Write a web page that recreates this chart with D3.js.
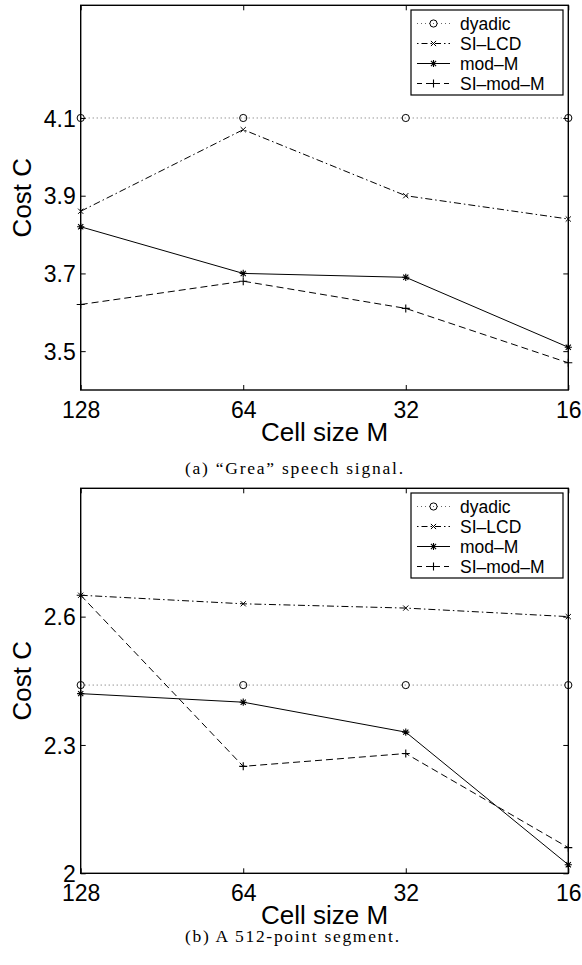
<!DOCTYPE html>
<html>
<head>
<meta charset="utf-8">
<script src="https://cdn.jsdelivr.net/npm/d3@7"></script>
<style>
html,body{margin:0;padding:0;background:#fff;}
svg{display:block;}
</style>
</head>
<body>
<svg id="chart" width="582" height="965"></svg>
<script>
// ---- data ----
const xLabels = ["128", "64", "32", "16"];
const seriesNames = ["dyadic", "SI–LCD", "mod–M", "SI–mod–M"];

const yTicksA = [3.5, 3.7, 3.9, 4.1];
const dyadicA = [4.1, 4.1, 4.1, 4.1];
const silcdA  = [3.86, 4.07, 3.90, 3.84];
const modMA   = [3.82, 3.70, 3.69, 3.51];
const simodMA = [3.62, 3.68, 3.61, 3.47];

const yTicksB = [2, 2.3, 2.6];
const dyadicB = [2.44, 2.44, 2.44, 2.44];
const silcdB  = [2.65, 2.63, 2.62, 2.60];
const modMB   = [2.42, 2.40, 2.33, 2.02];
const simodMB = [2.65, 2.25, 2.28, 2.06];

const captionA = "(a) “Grea” speech signal.";
const captionB = "(b) A 512-point segment.";

// ---- styles ----
const styles = [
  {dash: "1,3", color: "#666", marker: "circle"},
  {dash: "7,3,1.5,3", color: "#000", marker: "x"},
  {dash: null, color: "#000", marker: "star"},
  {dash: "7,4", color: "#000", marker: "plus"}
];

const svg = d3.select("#chart");
const sans = "'Liberation Sans', Arial, Helvetica, sans-serif";
const serif = "'Liberation Serif', 'Times New Roman', serif";

function drawMarker(g, type, cx, cy) {
  if (type === "circle") {
    g.append("circle").attr("cx", cx).attr("cy", cy).attr("r", 3.6)
      .attr("fill", "none").attr("stroke", "#000").attr("stroke-width", 1);
  } else if (type === "x") {
    const s = 2.6;
    g.append("path").attr("d", `M${cx-s},${cy-s}L${cx+s},${cy+s}M${cx-s},${cy+s}L${cx+s},${cy-s}`)
      .attr("stroke", "#000").attr("stroke-width", 1).attr("fill", "none");
  } else if (type === "star") {
    const s = 3.6, d = 2.6;
    g.append("path").attr("d", `M${cx-s},${cy}L${cx+s},${cy}M${cx},${cy-s}L${cx},${cy+s}M${cx-d},${cy-d}L${cx+d},${cy+d}M${cx-d},${cy+d}L${cx+d},${cy-d}`)
      .attr("stroke", "#000").attr("stroke-width", 1.1).attr("fill", "none");
  } else if (type === "plus") {
    const s = 4;
    g.append("path").attr("d", `M${cx-s},${cy}L${cx+s},${cy}M${cx},${cy-s}L${cx},${cy+s}`)
      .attr("stroke", "#000").attr("stroke-width", 1.1).attr("fill", "none");
  }
}

function panel(cfg) {
  const {top, bottom, left, right, domain, ticks, series, caption, captionY, legendTop} = cfg;
  const x = d3.scalePoint().domain(xLabels).range([left, right]).padding(0);
  const y = d3.scaleLinear().domain(domain).range([bottom, top]);
  const g = svg.append("g");

  // series
  series.forEach((vals, i) => {
    const st = styles[i];
    const line = d3.line().x((d, j) => x(xLabels[j])).y(d => y(d));
    const p = g.append("path").datum(vals).attr("d", line)
      .attr("fill", "none").attr("stroke", st.color).attr("stroke-width", 1);
    if (st.dash) p.attr("stroke-dasharray", st.dash);
    vals.forEach((v, j) => drawMarker(g, st.marker, x(xLabels[j]), y(v)));
  });

  // axes (inward ticks on all sides)
  const ax = (gen, tx, ty) => {
    const a = g.append("g").attr("transform", `translate(${tx},${ty})`).call(gen);
    a.select(".domain").remove();
    a.selectAll("line").attr("stroke", "#000").attr("stroke-width", 1);
    a.selectAll("text").attr("font-family", sans).attr("font-size", 23).attr("fill", "#000");
    return a;
  };
  const bx = ax(d3.axisBottom(x).tickSizeInner(-5).tickSizeOuter(0).tickPadding(0), 0, bottom);
  bx.selectAll("text").attr("dy", null).attr("y", 28).attr("dominant-baseline", "auto");
  ax(d3.axisTop(x).tickSizeInner(-5).tickSizeOuter(0).tickFormat(""), 0, top);
  const ly = ax(d3.axisLeft(y).tickValues(ticks).tickSizeInner(-5).tickSizeOuter(0).tickPadding(5).tickFormat(d3.format("")), left, 0);
  ly.selectAll("text").attr("dy", "0.36em");
  ax(d3.axisRight(y).tickValues(ticks).tickSizeInner(-5).tickSizeOuter(0).tickFormat(""), right, 0);

  // box
  g.append("rect").attr("x", left).attr("y", top).attr("width", right - left).attr("height", bottom - top)
    .attr("fill", "none").attr("stroke", "#000").attr("stroke-width", 1.4);

  // axis labels
  g.append("text").attr("x", (left + right) / 2).attr("y", bottom + 51)
    .attr("text-anchor", "middle").attr("font-family", sans).attr("font-size", 26).text("Cell size M");
  g.append("text").attr("transform", `translate(${31},${(top + bottom) / 2}) rotate(-90)`)
    .attr("text-anchor", "middle").attr("font-family", sans).attr("font-size", 26).text("Cost C");

  // legend
  const lg = g.append("g");
  const lx0 = 411, lx1 = 563;
  lg.append("rect").attr("x", lx0).attr("y", legendTop).attr("width", lx1 - lx0).attr("height", 85)
    .attr("fill", "#fff").attr("stroke", "#000").attr("stroke-width", 1.2);
  seriesNames.forEach((name, i) => {
    const cy = legendTop + 13.5 + i * 20;
    const st = styles[i];
    const l = lg.append("line").attr("x1", 417).attr("x2", 450).attr("y1", cy).attr("y2", cy)
      .attr("stroke", st.color).attr("stroke-width", 1);
    if (st.dash) l.attr("stroke-dasharray", st.dash === "7,4" ? "5,4" : st.dash === "7,3,1.5,3" ? "1.5,3,6,3" : st.dash);
    drawMarker(lg, st.marker, 433.5, cy);
    lg.append("text").attr("x", 460).attr("y", cy).attr("dy", "0.36em")
      .attr("font-family", sans).attr("font-size", 17.5).text(name);
  });

  // caption
  svg.append("text").attr("x", 185).attr("y", captionY).attr("font-family", serif).attr("font-size", 17.5)
    .attr("textLength", cfg.captionWidth).attr("lengthAdjust", "spacing").text(caption);
}

panel({top: 5.3, bottom: 390, left: 80.7, right: 568.3, domain: [3.4, 4.39], ticks: yTicksA,
  series: [dyadicA, silcdA, modMA, simodMA], caption: captionA, captionY: 474, captionWidth: 218, legendTop: 10});
panel({top: 488.3, bottom: 873.3, left: 80.7, right: 568.3, domain: [2, 2.9], ticks: yTicksB,
  series: [dyadicB, silcdB, modMB, simodMB], caption: captionB, captionY: 942, captionWidth: 214, legendTop: 493});
</script>
</body>
</html>
